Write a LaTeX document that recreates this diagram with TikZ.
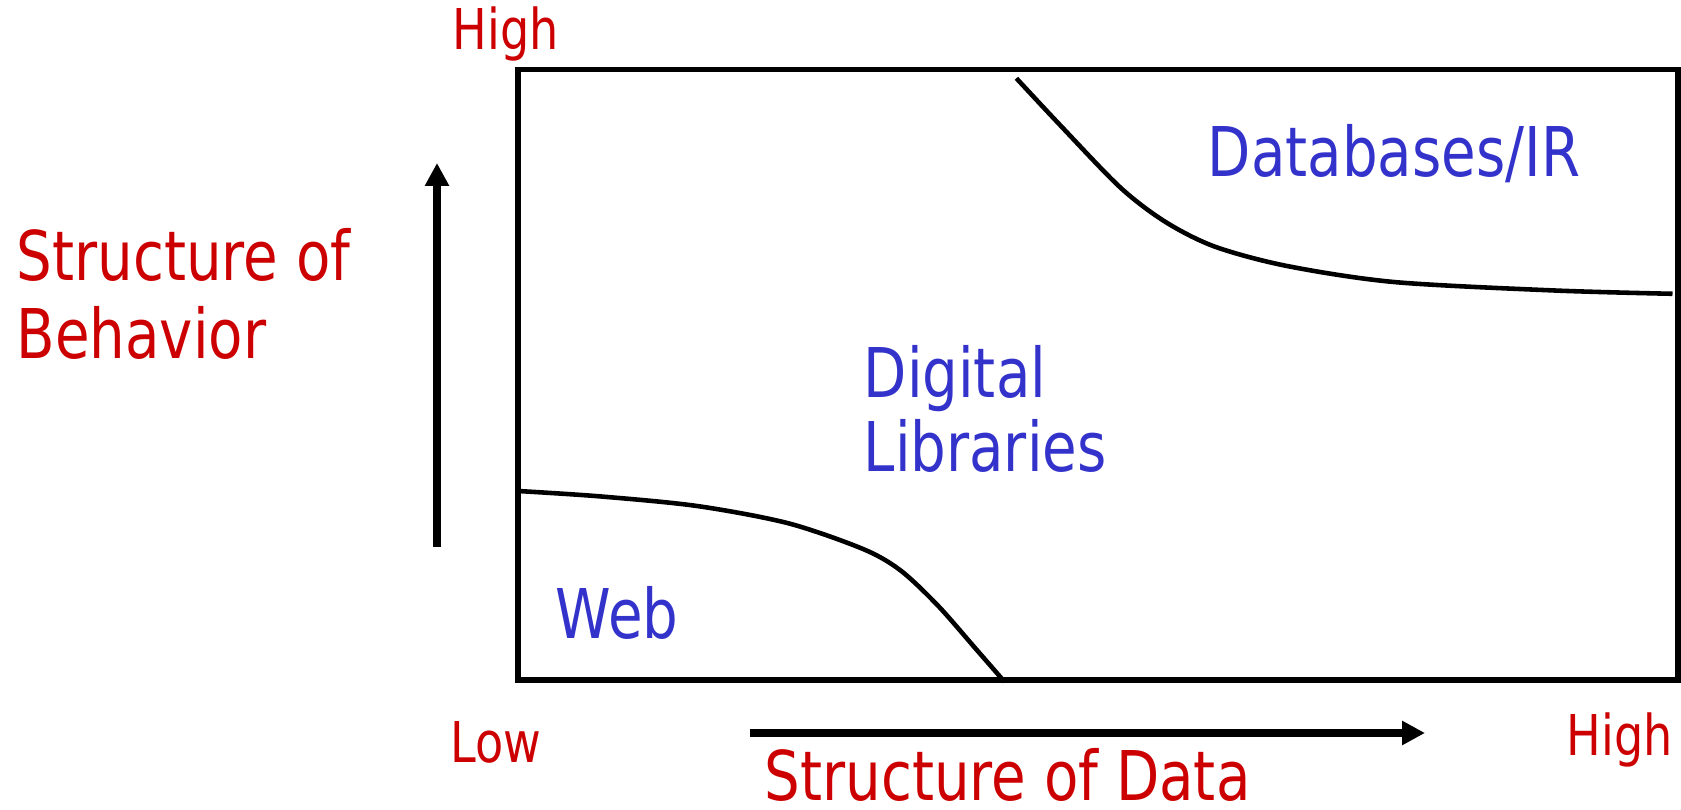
\documentclass[tikz,border=0pt]{standalone}
\usepackage{fontspec}
\setmainfont{DejaVu Sans}[FakeStretch=0.82]
\usetikzlibrary{arrows.meta}
\definecolor{axisred}{RGB}{204,0,0}
\definecolor{areablue}{RGB}{51,51,204}

\tikzset{
  axislabel/.style={text=axisred, font=\fontsize{19.5}{22.2}\selectfont, inner sep=0pt, align=left},
  endlabel/.style={text=axisred, font=\fontsize{16}{19}\selectfont, inner sep=0pt},
  arealabel/.style={text=areablue, font=\fontsize{19.5}{21.3}\selectfont, inner sep=0pt, align=left},
  axisarrow/.style={line width=2.3pt, -{Triangle[length=6.5pt,width=6.5pt]}},
  border/.style={line width=1.5pt},
  divide/.style={line width=1.3pt}
}

\begin{document}
\begin{tikzpicture}[x=0.01cm, y=-0.01cm]
  \useasboundingbox (0,0) rectangle (1681,810);
  % frame
  \draw[border] (518,69.5) rectangle (1678,680);
  % region borders
  \draw[divide] plot[smooth, tension=0.5] coordinates {(518,491) (600,496.4) (697,506) (788,523.2) (863,549) (900.5,570.4) (938,605.7) (975.6,648.6) (1004.6,681.9)};
  \draw[divide] plot[smooth, tension=0.5] coordinates {(1016.4,78.3) (1061.4,126.5) (1120.4,187.6) (1165.4,221.9) (1214.7,246.6) (1286.5,265.9) (1393.7,282) (1554.5,290.5) (1672.5,293.8)};
  % axes
  \coordinate (ylow) at (437,547);
  \coordinate (yhigh) at (437,163);
  \coordinate (xlow) at (750,733);
  \coordinate (xhigh) at (1425,733);
  \draw[axisarrow] (ylow) -- (yhigh);
  \draw[axisarrow] (xlow) -- (xhigh);
  % labels
  \node[endlabel, anchor=base] (tophigh) at (506,50) {High};
  \node[endlabel, anchor=base west] (low) at (450,763) {Low};
  \node[endlabel, anchor=base west] (righthigh) at (1566,756) {High};
  \node[axislabel, anchor=base west] (behavior) at (16,359) {Structure of\\Behavior};
  \node[axislabel, anchor=base west] (data) at (764,801) {Structure of Data};
  \node[arealabel, anchor=base] (db) at (1394,177) {Databases/IR};
  \node[arealabel, anchor=base west] (dl) at (863,472) {Digital\\Libraries};
  \node[arealabel, anchor=base west] (web) at (555,639) {Web};
\end{tikzpicture}
\end{document}
